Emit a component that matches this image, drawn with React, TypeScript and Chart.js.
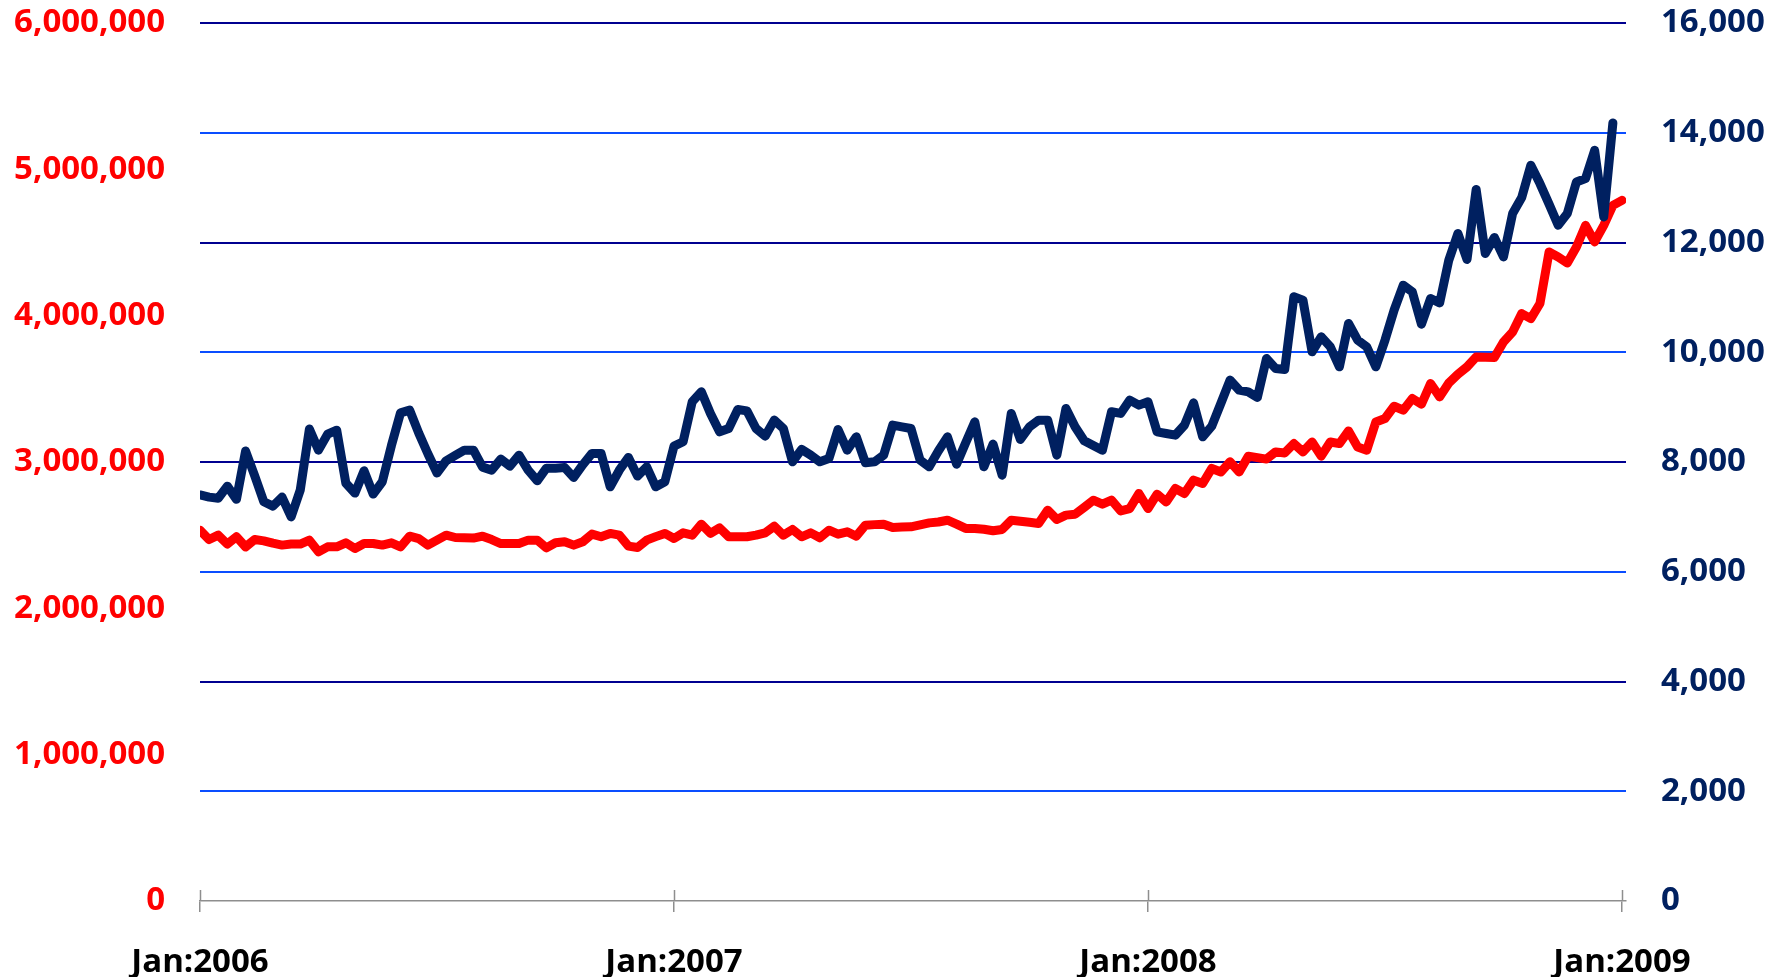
import React, { useEffect, useRef } from 'react';
import { Chart, registerables } from 'chart.js';

Chart.register(...registerables);

// X axis: weeks since Jan 2006
const xTickValues = [0, 52, 104, 156];
const xTickLabels = ['Jan:2006', 'Jan:2007', 'Jan:2008', 'Jan:2009'];

const leftTickValues = [0, 1000000, 2000000, 3000000, 4000000, 5000000, 6000000];
const rightTickValues = [0, 2000, 4000, 6000, 8000, 10000, 12000, 14000, 16000];

// Navy series (right axis), weekly
const navySeries = [
  7400, 7360, 7340, 7560, 7320, 8200, 7750, 7275, 7196, 7360,
  7000, 7490, 8600, 8216, 8508, 8580, 7615, 7433, 7840, 7415,
  7640, 8300, 8896, 8945, 8525, 8150, 7800, 8022, 8120, 8216,
  8216, 7907, 7852, 8052, 7925, 8125, 7852, 7658, 7888, 7888,
  7900, 7719, 7950, 8156, 8156, 7548, 7850, 8083, 7743, 7913,
  7548, 7640, 8289, 8368, 9097, 9279, 8885, 8550, 8611, 8957,
  8932, 8611, 8471, 8763, 8611, 8003, 8229, 8125, 8003, 8064,
  8593, 8216, 8459, 7985, 8003, 8125, 8672, 8640, 8611, 8034,
  7913, 8200, 8459, 7961, 8350, 8732, 7913, 8326, 7761, 8885,
  8411, 8641, 8763, 8763, 8125, 8976, 8641, 8386, 8300, 8216,
  8915, 8885, 9127, 9036, 9097, 8550, 8520, 8490, 8672, 9078,
  8459, 8654, 9070, 9492, 9310, 9279, 9176, 9887, 9705, 9687,
  11010, 10950, 10008, 10281, 10099, 9735, 10525, 10220, 10099, 9735,
  10220, 10767, 11222, 11100, 10512, 10980, 10900, 11678, 12164, 11690,
  12966, 11800, 12091, 11738, 12527, 12819, 13407, 13074, 12700, 12315,
  12527, 13104, 13165, 13681, 12466, 14178,
];

// Red series (left axis), weekly
const redSeries = [
  2534000, 2470000, 2500000, 2439000, 2489000, 2420000, 2470000, 2461000, 2445000, 2432000,
  2439000, 2439000, 2466000, 2386000, 2420000, 2420000, 2448000, 2409000, 2443000, 2443000,
  2432000, 2448000, 2420000, 2493000, 2477000, 2432000, 2466000, 2500000, 2484000, 2482000,
  2480000, 2493000, 2470000, 2443000, 2443000, 2443000, 2466000, 2466000, 2413000, 2448000,
  2455000, 2432000, 2455000, 2507000, 2489000, 2512000, 2500000, 2425000, 2416000, 2466000,
  2490000, 2512000, 2477000, 2516000, 2500000, 2575000, 2512000, 2550000, 2489000, 2489000,
  2489000, 2500000, 2516000, 2561000, 2500000, 2539000, 2489000, 2516000, 2482000, 2534000,
  2507000, 2523000, 2493000, 2568000, 2572000, 2575000, 2552000, 2555000, 2557000, 2570000,
  2584000, 2590000, 2602000, 2575000, 2546000, 2546000, 2540000, 2530000, 2539000, 2602000,
  2595000, 2588000, 2580000, 2671000, 2607000, 2637000, 2643000, 2690000, 2739000, 2712000,
  2739000, 2666000, 2682000, 2785000, 2682000, 2780000, 2727000, 2819000, 2785000, 2876000,
  2853000, 2956000, 2932000, 3001000, 2932000, 3040000, 3030000, 3020000, 3069000, 3062000,
  3126000, 3069000, 3137000, 3040000, 3137000, 3126000, 3212000, 3103000, 3081000, 3274000,
  3297000, 3381000, 3354000, 3434000, 3395000, 3536000, 3445000, 3540000, 3600000, 3650000,
  3718000, 3716000, 3714000, 3820000, 3889000, 4014000, 3980000, 4083000, 4435000, 4401000,
  4360000, 4469000, 4617000, 4504000, 4617000, 4754000, 4788000,
];

const FONT_FAMILY = "'Open Sans', 'Noto Sans', sans-serif";

const innerTickPlugin = {
  id: 'innerTicks',
  afterDraw(chart: any) {
    const xs = chart.scales.x;
    const area = chart.chartArea;
    const ctx = chart.ctx;
    ctx.save();
    ctx.strokeStyle = '#8E8E8E';
    ctx.lineWidth = 1.5;
    xs.ticks.forEach((t: any) => {
      const px = Math.round(xs.getPixelForValue(t.value)) + 0.5;
      ctx.beginPath();
      ctx.moveTo(px, area.bottom - 11);
      ctx.lineTo(px, area.bottom);
      ctx.stroke();
    });
    ctx.restore();
  },
};

const zeroPad = (s: any) => {
  s.paddingTop = 0;
  s.paddingBottom = 0;
  s.paddingLeft = 0;
  s.paddingRight = 0;
};

export default function App() {
  const canvasRef = useRef<HTMLCanvasElement>(null);

  useEffect(() => {
    if (!canvasRef.current) return;
    const font = { family: FONT_FAMILY, weight: 'bold' as const, size: 33 };
    const chart = new Chart(canvasRef.current, {
      type: 'line',
      data: {
        datasets: [
          {
            label: 'Navy',
            data: navySeries.map((v, i) => ({ x: i, y: v })),
            yAxisID: 'yR',
            borderColor: '#002060',
            backgroundColor: '#002060',
            borderWidth: 9,
            pointRadius: 0,
            tension: 0,
            borderJoinStyle: 'round',
            borderCapStyle: 'round',
          },
          {
            label: 'Red',
            data: redSeries.map((v, i) => ({ x: i, y: v })),
            yAxisID: 'yL',
            borderColor: '#FF0000',
            backgroundColor: '#FF0000',
            borderWidth: 9,
            pointRadius: 0,
            tension: 0,
            borderJoinStyle: 'round',
            borderCapStyle: 'round',
          },
        ],
      },
      options: {
        animation: false,
        responsive: false,
        maintainAspectRatio: false,
        layout: { padding: { top: 23, left: 0, right: 0, bottom: 0 } },
        plugins: { legend: { display: false }, tooltip: { enabled: false } },
        scales: {
          x: {
            type: 'linear',
            min: 0,
            max: 156.44,
            afterBuildTicks: (s: any) => {
              s.ticks = xTickValues.map((v) => ({ value: v }));
            },
            afterFit: (s: any) => {
              s.height = 76;
              zeroPad(s);
            },
            ticks: {
              autoSkip: false,
              maxRotation: 0,
              minRotation: 0,
              padding: 31,
              color: '#000000',
              font,
              callback: (v: any) => {
                const i = xTickValues.indexOf(Number(v));
                return i >= 0 ? xTickLabels[i] : '';
              },
            },
            grid: {
              drawOnChartArea: false,
              drawTicks: true,
              tickLength: 11,
              color: '#8E8E8E',
              lineWidth: 1.5,
            },
            border: { display: true, color: '#8E8E8E', width: 1.5 },
          },
          yL: {
            type: 'linear',
            position: 'left',
            min: 0,
            max: 6000000,
            afterBuildTicks: (s: any) => {
              s.ticks = leftTickValues.map((v) => ({ value: v }));
            },
            afterFit: (s: any) => {
              s.width = 200;
              zeroPad(s);
            },
            ticks: {
              color: '#FF0000',
              padding: 35,
              font,
              callback: (v: any) => Number(v).toLocaleString('en-US'),
            },
            grid: { display: false, drawTicks: false },
            border: { display: false },
          },
          yR: {
            type: 'linear',
            position: 'right',
            min: 0,
            max: 16000,
            afterBuildTicks: (s: any) => {
              s.ticks = rightTickValues.map((v) => ({ value: v }));
            },
            afterFit: (s: any) => {
              s.width = 155;
              zeroPad(s);
            },
            ticks: {
              color: '#002060',
              padding: 35,
              font,
              callback: (v: any) => Number(v).toLocaleString('en-US'),
            },
            grid: {
              drawTicks: false,
              lineWidth: 2,
              color: (ctx: any) => {
                const v = ctx.tick ? ctx.tick.value : 0;
                if (v === 0) return 'rgba(0,0,0,0)';
                return (v / 2000) % 2 === 1 ? '#0A4DFF' : '#000090';
              },
            },
            border: { display: false },
          },
        },
      },
      plugins: [innerTickPlugin],
    });
    return () => chart.destroy();
  }, []);

  return (
    <div style={{ position: 'fixed', left: 0, top: 0, width: 1781, height: 977, background: '#fff' }}>
      <canvas ref={canvasRef} width={1781} height={977} style={{ display: 'block' }} />
    </div>
  );
}
